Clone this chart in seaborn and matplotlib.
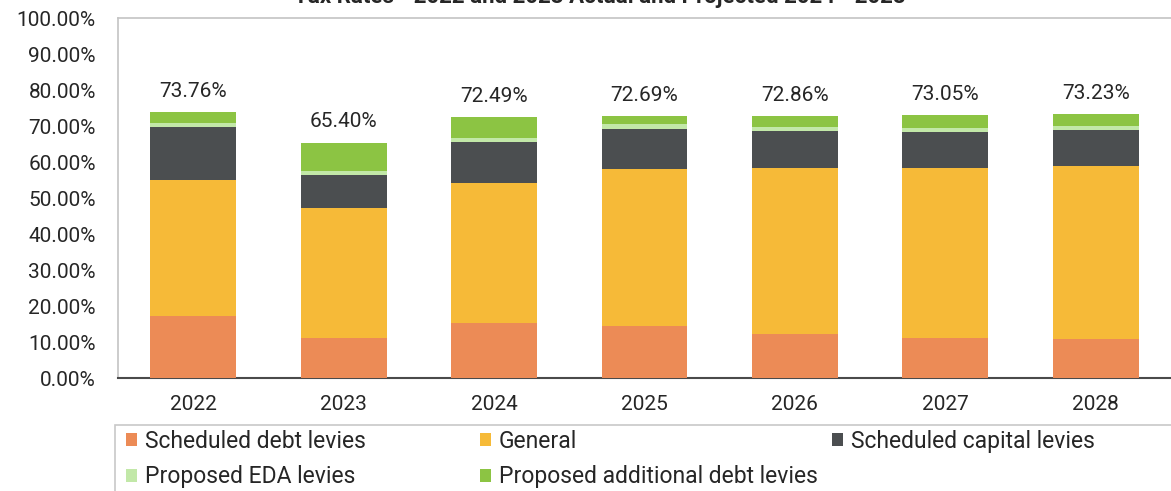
import numpy as np
import matplotlib
matplotlib.use("Agg")
import matplotlib.pyplot as plt
from matplotlib.patches import Rectangle, Patch
from matplotlib.ticker import PercentFormatter, MultipleLocator
import seaborn as sns

# Tax rate components (% of taxable value)
years = ["2022", "2023", "2024", "2025", "2026", "2027", "2028"]
scheduled_debt = [17.3, 11.0, 15.2, 14.4, 12.2, 11.0, 10.7]
general = [37.7, 36.2, 38.9, 43.6, 46.2, 47.3, 48.3]
scheduled_capital = [14.8, 9.2, 11.5, 11.1, 10.3, 10.0, 9.9]
proposed_eda = [1.1, 1.0, 1.2, 1.5, 1.05, 1.2, 1.05]
proposed_additional = [2.86, 8.0, 5.69, 2.09, 3.11, 3.55, 3.28]
totals = [73.76, 65.40, 72.49, 72.69, 72.86, 73.05, 73.23]

series_names = ["Scheduled debt levies", "General", "Scheduled capital levies",
                "Proposed EDA levies", "Proposed additional debt levies"]
series_colors = ["#EC8B56", "#F6BA38", "#4B4E50", "#C2E8A8", "#8CC443"]

sns.set_style("white")
plt.rcParams["font.family"] = ["Roboto", "DejaVu Sans"]
text_color = "#262626"

fig = plt.figure(figsize=(11.71, 4.91), dpi=100)
ax = fig.add_axes([118 / 1171, 113 / 491, (1171 - 118) / 1171, 360 / 491])

components = np.array([scheduled_debt, general, scheduled_capital,
                       proposed_eda, proposed_additional])
stacked = np.cumsum(components, axis=0)

# Draw cumulative heights from the top segment down so each layer overlays the next
for k in range(len(series_names) - 1, -1, -1):
    sns.barplot(x=years, y=stacked[k], color=series_colors[k], saturation=1,
                width=0.57, linewidth=0, edgecolor="none", ax=ax, zorder=3)

for i, t in enumerate(totals):
    ax.annotate(f"{t:.2f}%", xy=(i, t), xytext=(0, 8), textcoords="offset points",
                ha="center", va="bottom", fontsize=15, color=text_color)

ax.set_ylim(0, 100)
ax.set_xlim(-0.5, len(years) - 0.5)
ax.yaxis.set_major_locator(MultipleLocator(10))
ax.yaxis.set_major_formatter(PercentFormatter(decimals=2))
ax.tick_params(axis="y", length=0, pad=16, labelsize=15, labelcolor=text_color)
ax.tick_params(axis="x", length=0, pad=12, labelsize=15, labelcolor=text_color)
ax.set_xlabel("")
ax.set_ylabel("")
ax.grid(False)

for side in ["left", "top"]:
    ax.spines[side].set_color("#C4C4C4")
    ax.spines[side].set_linewidth(1.2)
ax.spines["right"].set_visible(False)
ax.spines["bottom"].set_color("#4A4A4A")
ax.spines["bottom"].set_linewidth(1.5)

fig.text(600 / 1171, 1 + 3 / 491, "Tax Rates - 2022 and 2023 Actual and Projected 2024 - 2028",
         ha="center", va="center", fontsize=16, fontweight="bold", color=text_color)

# Legend box below the plot
fig.patches.append(Rectangle((115 / 1171, -0.2), 1.0, (491 - 425) / 491 + 0.2,
                             transform=fig.transFigure, fill=False,
                             edgecolor="#C8C8C8", linewidth=1.2))

handles = [Patch(facecolor=c, edgecolor="none") for c in series_colors]
columns = [([0, 3], 126), ([1, 4], 480), ([2], 832)]
for idx, xpix in columns:
    fig.legend([handles[j] for j in idx], [series_names[j] for j in idx],
               loc="upper left", bbox_to_anchor=(xpix / 1171, (491 - 430) / 491),
               frameon=False, fontsize=16.5, handlelength=0.5, handleheight=0.5,
               handletextpad=0.32, labelspacing=0.54, borderpad=0, borderaxespad=0,
               labelcolor=text_color)

fig.savefig("out.png", dpi=100)
